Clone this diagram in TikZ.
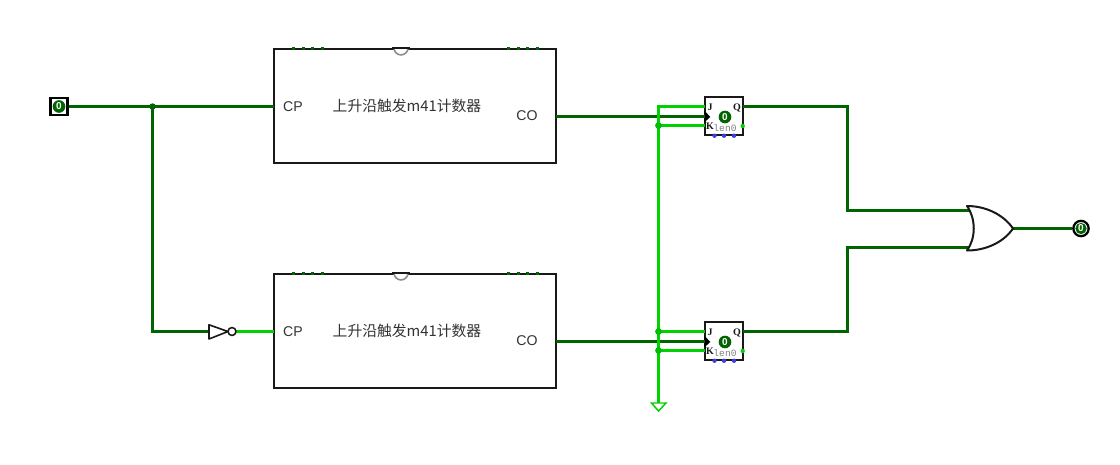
\documentclass[tikz,border=0pt]{standalone}
\usepackage{fontspec}
\setmainfont{Liberation Sans}
\newfontfamily\cjkfont{Noto Sans CJK SC}
\newfontfamily\pinfont{Liberation Mono}
\newfontfamily\pinserif{Liberation Serif}
\usetikzlibrary{calc}
\definecolor{wiredark}{RGB}{0,100,0}
\definecolor{wirelight}{RGB}{0,210,0}
\definecolor{pinblue}{RGB}{60,60,235}
\tikzset{
  darkwire/.style={draw=wiredark,line width=2.25pt,line join=miter},
  lightwire/.style={draw=wirelight,line width=2.25pt,line join=miter},
  counterbox/.style={draw=black!90,line width=1.6pt,fill=white,inner sep=0pt,minimum width=211.5pt,minimum height=85.5pt},
  ffbox/.style={draw=black!90,line width=1.6pt,fill=white,inner sep=0pt,minimum width=28pt,minimum height=28pt},
  gatepath/.style={draw=black!90,line width=1.2pt,line join=round},
  plaintext/.style={inner sep=0pt,text=black!80,font=\fontsize{10.6}{12}\selectfont},
  cjktext/.style={inner sep=0pt,text=black!80,font=\cjkfont\fontsize{11.1}{12}\selectfont},
  pintext/.style={inner sep=0pt,text=black!90,font=\pinserif\bfseries\fontsize{7.5}{8}\selectfont},
  lentext/.style={inner sep=0pt,text=black!50,font=\pinfont\fontsize{7.2}{8}\selectfont},
  valdisc/.style={circle,fill=wiredark,text=white,inner sep=0pt,minimum size=12pt,font=\bfseries\fontsize{7.5}{7}\selectfont},
}
\begin{document}
\begin{tikzpicture}[x=0.75pt,y=-0.75pt]
\useasboundingbox (0,0) rectangle (1120,464);
\fill[white] (0,0) rectangle (1120,464);

% counters
\node[counterbox] (c1) at (415,106) {};
\node[counterbox] (c2) at (415,331) {};
\foreach \c/\t in {c1/106.5,c2/331.5}{
  \node[plaintext] at (293,\t) {CP};
  \node[plaintext] at (527,\t+9) {CO};
  \node[cjktext] at (407,\t-0.7) {上升沿触发m41计数器};
  \draw[black!45,line width=1.2pt,fill=white] ($(\c.north)+(-21,0)$) arc[start angle=180,end angle=0,radius=7];
  \draw[black!90,line width=1.6pt] ($(\c.north)+(-23,0)$) -- ($(\c.north)+(-5,0)$);
  \foreach \dx in {-122,-112,-103,-93,93,103,112,122}
    \fill[wiredark] ($(\c.north)+(\dx,0)$) +(-1.5,-1) rectangle +(1.5,2);
}

% flip-flops
\node[ffbox] (f1) at (724,116) {};
\node[ffbox] (f2) at (724,341) {};
\foreach \f in {f1,f2}{
  \node[pintext] at ($(\f.center)+(-14,-8.5)$) {J};
  \node[pintext] at ($(\f.center)+(13,-8.5)$) {Q};
  \node[pintext] at ($(\f.center)+(-14,10.5)$) {K};
  \node[lentext] at ($(\f.center)+(1,12)$) {len0};
  \node[valdisc,minimum size=9.5pt] at ($(\f.center)+(1,1)$) {0};
  \fill[black] ($(\f.west)+(0,-5.5)$) -- ($(\f.west)+(6,1)$) -- ($(\f.west)+(0,6.5)$) -- cycle;
  \foreach \dx in {-9.5,0,10}
    \fill[pinblue] ($(\f.south)+(\dx,0)$) circle (2.2);
  \fill[wirelight] ($(\f.east)+(-1,10)$) circle (2.2);
}

% pins and junctions
\node[draw=black,line width=1.7pt,fill=white,minimum size=12.8pt,inner sep=0pt] (inbox) at (59,106.5) {};
\node[valdisc,minimum size=9.5pt] (inval) at (59,106.5) {0};
\node[circle,draw=black,line width=1.7pt,fill=white,minimum size=11.5pt,inner sep=0pt] (outring) at (1081,228.5) {};
\node[valdisc,minimum size=8.5pt] (outval) at (1081,228.5) {0};

\coordinate (j0) at (152.5,106.5);
\coordinate (cp1) at (274,106.5);
\coordinate (cp2) at (274,331.5);
\coordinate (corner) at (152.5,331.5);
\coordinate (invin) at (209,331.5);
\coordinate (invout) at (236,331.5);
\coordinate (co1) at (556,116.5);
\coordinate (co2) at (556,341.5);
\coordinate (clk1) at (705,116.5);
\coordinate (clk2) at (705,341.5);
\coordinate (j1) at (705,106.5);
\coordinate (k1) at (705,125.5);
\coordinate (j2) at (705,331.5);
\coordinate (k2) at (705,350.5);
\coordinate (railtop) at (658.5,106.5);
\coordinate (railk1) at (658.5,125.5);
\coordinate (railj2) at (658.5,331.5);
\coordinate (railk2) at (658.5,350.5);
\coordinate (gnd) at (658.5,403);
\coordinate (q1) at (743,106.5);
\coordinate (q2) at (743,331.5);
\coordinate (or1) at (972,210.5);
\coordinate (or2) at (972,247.5);
\coordinate (ortip) at (1013,228.5);

% wires
\draw[darkwire] (inbox.east) -- (j0) -- (cp1);
\draw[darkwire] (j0) -- (corner) -- (invin);
\draw[lightwire] (invout) -- (cp2);
\draw[darkwire] (co1) -- (clk1);
\draw[darkwire] (co2) -- (clk2);
\draw[lightwire] (j1) -- (railtop) -- (gnd);
\draw[lightwire] (railk1) -- (k1);
\draw[lightwire] (railj2) -- (j2);
\draw[lightwire] (railk2) -- (k2);
\draw[darkwire] (q1) -| (847.5,210.5) -- (or1);
\draw[darkwire] (q2) -| (847.5,247.5) -- (or2);
\draw[darkwire] (ortip) -- (outring.west);

% junction dots
\fill[wiredark] (j0) circle (3.2);
\foreach \p in {railk1,railj2,railk2}
  \fill[wirelight!90!black] (\p) circle (3.4);

% ground
\draw[wirelight,line width=1.1pt,line join=miter] (651.5,403) -- (666,403) -- (658.5,411) -- cycle;

% NOT gate
\draw[gatepath,fill=white] (invin) ++(0,-6.7) -- (228,331.5) -- (209,339) -- cycle;
\draw[gatepath,fill=white] (232,331.5) circle (4);

% OR gate
\draw[gatepath,fill=white,line width=1.5pt] (967,206) .. controls (985,206) and (1003,214) .. (ortip)
  .. controls (1003,243) and (985,250.5) .. (967,250.5)
  .. controls (976,238) and (976,219) .. cycle;
\end{tikzpicture}
\end{document}
